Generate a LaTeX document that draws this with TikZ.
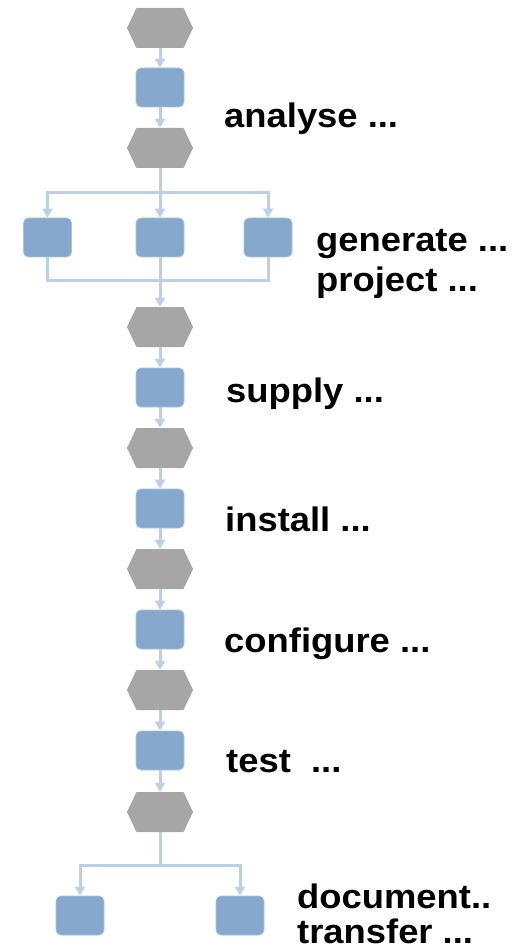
\documentclass[tikz,border=0pt]{standalone}
\usepackage{fontspec}
\setmainfont{Liberation Sans}
\usetikzlibrary{arrows.meta}
\definecolor{fnblue}{RGB}{134,168,204}
\definecolor{fnedge}{RGB}{168,194,220}
\definecolor{evgray}{RGB}{166,166,166}
\definecolor{flowblue}{RGB}{187,208,229}
\tikzset{
  hexev/.style={minimum width=66pt, minimum height=40pt, inner sep=0pt,
    path picture={\fill[evgray]
      (path picture bounding box.west)
      -- ([xshift=9.5pt]path picture bounding box.north west)
      -- ([xshift=-9.5pt]path picture bounding box.north east)
      -- (path picture bounding box.east)
      -- ([xshift=-9.5pt]path picture bounding box.south east)
      -- ([xshift=9.5pt]path picture bounding box.south west) -- cycle;}},
  fnbox/.style={minimum width=48pt, minimum height=39pt, inner sep=0pt,
    rounded corners=5pt, fill=fnblue, draw=fnedge, line width=0.8pt},
  flowline/.style={draw=flowblue, line width=3pt},
  flow/.style={flowline, -{Triangle[width=10pt,length=9pt]}},
  lbl/.style={anchor=base west, inner sep=0pt,
    font=\bfseries\fontsize{34}{39}\selectfont}
}
\newcommand{\wide}[1]{\scalebox{1.07}[1]{#1}}
\begin{document}
\begin{tikzpicture}[x=1pt,y=-1pt]
\useasboundingbox (0,0) rectangle (520,949);

% main column of events and functions
\node[hexev] (e1) at (160,28) {};
\node[fnbox] (f1) at (160,87.5) {};
\node[hexev] (e2) at (160,148) {};
\node[fnbox] (g1) at (47.5,237.5) {};
\node[fnbox] (g2) at (160,237.5) {};
\node[fnbox] (g3) at (268,237.5) {};
\node[hexev] (e3) at (160,327) {};
\node[fnbox] (f3) at (160,387.5) {};
\node[hexev] (e4) at (160,448) {};
\node[fnbox] (f4) at (160,508.5) {};
\node[hexev] (e5) at (160,569) {};
\node[fnbox] (f5) at (160,629.5) {};
\node[hexev] (e6) at (160,690) {};
\node[fnbox] (f6) at (160,750.5) {};
\node[hexev] (e7) at (160,812) {};
\node[fnbox] (h1) at (80,915.5) {};
\node[fnbox] (h2) at (240,915.5) {};

% branch and join points
\coordinate (s1) at (160,193);
\coordinate (j1) at (160,281);
\coordinate (s2) at (160,865);

% connectors
\draw[flow] (e1) -- (f1);
\draw[flow] (f1) -- (e2);
\draw[flowline] (e2) -- (s1);
\draw[flow] (s1) -- (g2);
\draw[flow] (s1) -| (g1);
\draw[flow] (s1) -| (g3);
\draw[flowline] (g1) |- (j1);
\draw[flowline] (g3) |- (j1);
\draw[flow] (g2) -- (e3);
\draw[flow] (e3) -- (f3);
\draw[flow] (f3) -- (e4);
\draw[flow] (e4) -- (f4);
\draw[flow] (f4) -- (e5);
\draw[flow] (e5) -- (f5);
\draw[flow] (f5) -- (e6);
\draw[flow] (e6) -- (f6);
\draw[flow] (f6) -- (e7);
\draw[flowline] (e7) -- (s2);
\draw[flow] (s2) -| (h1);
\draw[flow] (s2) -| (h2);

% labels
\node[lbl] (l1) at (224,128) {\wide{analyse ...}};
\node[lbl] (l2) at (316,252) {\wide{generate ...}};
\node[lbl] (l3) at (316,291) {\wide{project ...}};
\node[lbl] (l4) at (226,402) {\wide{supply ...}};
\node[lbl] (l5) at (225,531) {\wide{install ...}};
\node[lbl] (l6) at (224,652) {\wide{configure ...}};
\node[lbl] (l7) at (226,772) {\wide{test\ \ ...}};
\node[lbl] (l8) at (297,908) {\wide{document..}};
\node[lbl] (l9) at (297,943) {\wide{transfer ...}};
\end{tikzpicture}
\end{document}
